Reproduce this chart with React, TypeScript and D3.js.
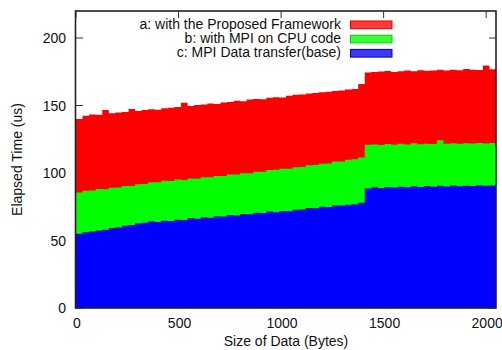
import React from 'react';
import * as d3 from 'd3';

// message sizes in bytes, one sample every 32 bytes
const sizes = d3.range(0, 2049, 32);

// a: with the Proposed Framework
const proposed = [
  140.0, 142.4, 143.3, 143.2, 146.6, 144.2, 144.9, 145.1, 147.4, 145.9,
  146.6, 147.2, 146.9, 148.0, 148.3, 148.8, 152.1, 149.6, 150.3, 150.7,
  151.4, 151.1, 152.3, 152.6, 153.5, 153.2, 154.4, 154.9, 154.6, 155.8,
  156.2, 156.0, 157.3, 157.9, 158.1, 158.8, 159.2, 159.9, 160.1, 160.8,
  161.1, 161.9, 162.3, 166.0, 174.5, 174.9, 175.2, 175.6, 174.9, 175.4,
  176.0, 175.3, 176.1, 175.7, 175.9, 176.5, 176.0, 176.4, 176.1, 177.0,
  176.5, 176.3, 179.6, 176.8, 177.0,
];

// b: with MPI on CPU code
const mpiCpu = [
  85.5, 86.9, 87.0, 88.1, 88.0, 89.0, 89.3, 90.3, 90.4, 91.6,
  91.9, 93.1, 93.2, 94.3, 94.0, 95.1, 94.8, 95.9, 95.8, 96.8,
  96.8, 97.7, 97.8, 98.9, 98.9, 99.9, 99.9, 100.9, 101.0, 102.2,
  102.4, 103.2, 103.2, 104.3, 104.5, 105.8, 105.9, 106.9, 107.1, 108.5,
  108.6, 109.9, 110.2, 111.5, 120.9, 121.2, 120.7, 121.4, 120.9, 121.6,
  121.2, 122.0, 121.3, 121.7, 121.4, 124.3, 121.6, 122.0, 121.7, 122.1,
  121.8, 122.2, 121.9, 122.3, 122.1,
];

// c: MPI Data transfer(base)
const base = [
  55.0, 56.1, 56.6, 57.5, 58.0, 59.3, 59.6, 61.0, 61.4, 62.8,
  63.1, 64.2, 63.7, 64.6, 64.4, 65.3, 65.2, 66.6, 66.1, 67.2,
  66.9, 67.9, 67.8, 68.9, 68.6, 69.7, 69.5, 70.6, 70.3, 71.4,
  71.0, 71.9, 71.7, 72.8, 73.0, 74.1, 73.9, 75.0, 74.9, 75.9,
  75.9, 76.5, 76.8, 77.9, 88.6, 89.4, 88.9, 89.6, 89.2, 89.9,
  89.5, 90.2, 89.6, 90.4, 89.8, 90.5, 90.0, 90.8, 90.2, 90.6,
  90.3, 90.9, 90.5, 90.7, 90.6,
];

const xTicks = [0, 500, 1000, 1500, 2000];
const yTicks = [0, 50, 100, 150, 200];

const series = [
  { label: 'a: with the Proposed Framework', values: proposed, color: '#ff0000', swatch: '#ff3a3a', edge: '#e00000' },
  { label: 'b: with MPI on CPU code', values: mpiCpu, color: '#00ff00', swatch: '#3aff3a', edge: '#00d000' },
  { label: 'c: MPI Data transfer(base)', values: base, color: '#0000ff', swatch: '#3a3aff', edge: '#0000c0' },
];

const width = 502;
const height = 350;
const margin = { top: 11, right: 6, bottom: 42, left: 76 };
const font = '"Liberation Sans", Arial, Helvetica, sans-serif';

export default function App() {
  const x = d3.scaleLinear().domain([0, 2048]).range([margin.left, width - margin.right]);
  const y = d3.scaleLinear().domain([0, 220]).range([height - margin.bottom, margin.top]);

  const area = (vals: number[]) =>
    d3.area<number>()
      .x((_, i) => x(sizes[i]))
      .y0(y(0))
      .y1(d => y(d))
      .curve(d3.curveStepAfter)(vals) as string;

  const left = margin.left;
  const right = width - margin.right;
  const top = margin.top;
  const bottom = height - margin.bottom;
  const tick = 7;

  return (
    <svg width={width} height={height} style={{ position: 'absolute', left: 0, top: 0, background: '#fff' }}
      fontFamily={font} fontSize={14}>
      {/* ticks sit behind the data, like gnuplot does */}
      {yTicks.map(t => (
        <g key={'y' + t} stroke="#333" strokeWidth={1}>
          <line x1={left} x2={left + tick} y1={y(t)} y2={y(t)} />
          <line x1={right - tick} x2={right} y1={y(t)} y2={y(t)} />
        </g>
      ))}
      {xTicks.map(t => (
        <g key={'x' + t} stroke="#333" strokeWidth={1}>
          <line x1={x(t)} x2={x(t)} y1={top} y2={top + tick} />
          <line x1={x(t)} x2={x(t)} y1={bottom - tick} y2={bottom} />
        </g>
      ))}

      {series.map(s => (
        <path key={s.label} d={area(s.values)} fill={s.color} />
      ))}

      <rect x={left - 0.5} y={top} width={right - left + 0.5} height={bottom - top}
        fill="none" stroke="#222" strokeWidth={1.6} />

      {yTicks.map(t => (
        <text key={'yl' + t} x={66} y={y(t)} dy="0.36em" textAnchor="end" fill="#111">{t}</text>
      ))}
      {xTicks.map(t => (
        <text key={'xl' + t} x={x(t) + 1} y={328} textAnchor="middle" fill="#111">{t}</text>
      ))}

      <text x={(left + right) / 2} y={346} textAnchor="middle" fill="#111">Size of Data (Bytes)</text>
      <text transform={`translate(22,${(top + bottom) / 2}) rotate(-90)`} textAnchor="middle" fill="#111">
        Elapsed Time (us)
      </text>

      {series.map((s, i) => (
        <g key={'lg' + i}>
          <text x={341} y={29 + i * 14.2} textAnchor="end" fill="#111">{s.label}</text>
          <rect x={350.5} y={21 + i * 14.2} width={41.5} height={7.7} fill={s.swatch} stroke={s.edge} strokeWidth={1} />
        </g>
      ))}
    </svg>
  );
}
